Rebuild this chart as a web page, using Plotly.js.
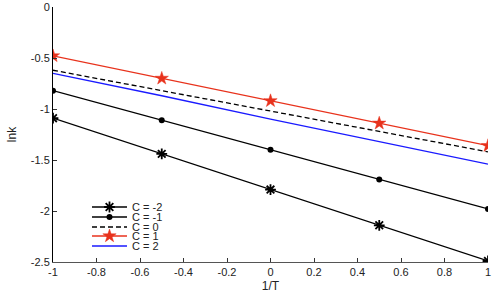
<!DOCTYPE html>
<html><head><meta charset="utf-8">
<script src="https://cdn.plot.ly/plotly-3.0.1.min.js"></script>
<style>body{margin:0;background:#fff}#c{width:500px;height:294px}</style>
</head><body><div id="c"></div>
<script>
const invT = [-1, -0.5, 0, 0.5, 1];
const seriesNames = ['C = -2', 'C = -1', 'C = 0', 'C = 1', 'C = 2'];
const cm2 = [-1.09, -1.44, -1.79, -2.14, -2.49];
const cm1 = [-0.82, -1.11, -1.40, -1.69, -1.98];
const c0  = [-0.62, -0.82, -1.02, -1.22, -1.42];
const c1  = [-0.48, -0.70, -0.92, -1.14, -1.36];
const c2  = [-0.65, -0.87, -1.10, -1.32, -1.54];
const xTicks = [-1, -0.8, -0.6, -0.4, -0.2, 0, 0.2, 0.4, 0.6, 0.8, 1];
const xTickText = ['-1', '-0.8', '-0.6', '-0.4', '-0.2', '0', '0.2', '0.4', '0.6', '0.8', '1'];
const yTicks = [0, -0.5, -1, -1.5, -2, -2.5];
const yTickText = ['0', '-0.5', '-1', '-1.5', '-2', '-2.5'];

const red = '#e8321c', blue = '#1a1aff';
const traces = [
  {x: invT, y: cm2, name: seriesNames[0], mode: 'lines+markers', legend: 'legend',
   line: {color: '#000', width: 1.3}, marker: {symbol: 'asterisk-open', size: 9, color: '#000', line: {color: '#000', width: 1.8}}},
  {x: invT, y: cm1, name: seriesNames[1], mode: 'lines+markers', legend: 'legend2',
   line: {color: '#000', width: 1.3}, marker: {symbol: 'circle', size: 6, color: '#000'}},
  {x: invT, y: c0, name: seriesNames[2], mode: 'lines', legend: 'legend3',
   line: {color: '#000', width: 1.3, dash: '5px,3px'}},
  {x: invT, y: c1, name: seriesNames[3], mode: 'lines+markers', legend: 'legend4',
   line: {color: red, width: 1.3}, marker: {symbol: 'star', size: 10, color: red, line: {color: red, width: 0.5}}},
  {x: invT, y: c2, name: seriesNames[4], mode: 'lines', legend: 'legend5',
   line: {color: blue, width: 1.3}}
];

const L = 53, R = 488, T = 7, B = 262;
function leg(py) {
  return {x: (87 - L) / (R - L), xanchor: 'left', y: (B - py) / (B - T), yanchor: 'middle',
    itemwidth: 35, bgcolor: 'rgba(0,0,0,0)', borderwidth: 0,
    font: {family: 'Liberation Sans, Arial, sans-serif', size: 11, color: '#222'}};
}
const font = {family: 'Liberation Sans, Arial, sans-serif', size: 11, color: '#222'};
const layout = {
  width: 500, height: 294,
  margin: {l: L, r: 500 - R, t: T, b: 294 - B},
  paper_bgcolor: '#fff', plot_bgcolor: '#fff',
  font: font,
  showlegend: true,
  legend: leg(207), legend2: leg(217), legend3: leg(227), legend4: leg(236), legend5: leg(246),
  xaxis: {range: [-1, 1], tickvals: xTicks, ticktext: xTickText, ticks: 'inside', ticklen: 4, tickcolor: '#333',
    showline: true, linecolor: '#555', linewidth: 1, showgrid: false, zeroline: false,
    title: {text: '1/T', font: {size: 12, color: '#222'}, standoff: 4}, automargin: false},
  yaxis: {range: [-2.5, 0], tickvals: yTicks, ticktext: yTickText, ticks: 'inside', ticklen: 4, tickcolor: '#333',
    showline: true, linecolor: '#000', linewidth: 1, showgrid: false, zeroline: false,
    title: {text: 'lnk', font: {size: 12, color: '#222'}, standoff: 11}, automargin: false}
};
Plotly.newPlot('c', traces, layout, {displayModeBar: false, staticPlot: true});
</script></body></html>
